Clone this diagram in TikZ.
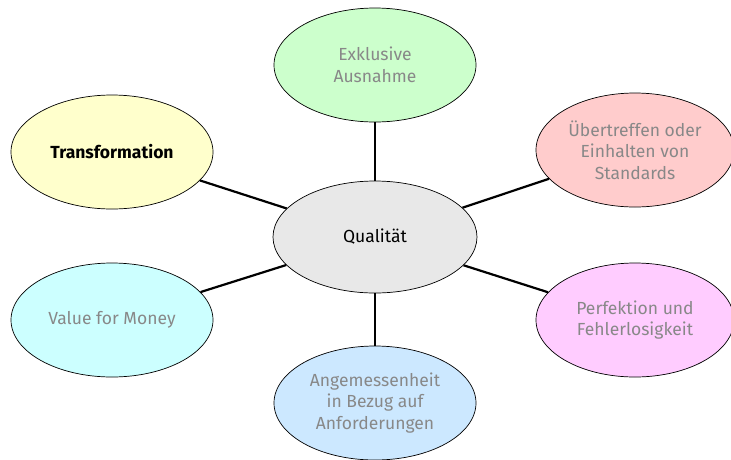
\documentclass[tikz,border=0pt]{standalone}
\usepackage{fontspec}
\setmainfont{Fira Sans}
\usetikzlibrary{shapes.geometric}
\definecolor{cgreen}{HTML}{CCFFCC}
\definecolor{cyellow}{HTML}{FFFFCC}
\definecolor{cpink}{HTML}{FFCCCC}
\definecolor{cgray}{HTML}{E8E8E8}
\definecolor{cblue}{HTML}{CCE8FF}
\definecolor{cmagenta}{HTML}{FFCCFF}
\definecolor{ccyan}{HTML}{CCFFFF}
\definecolor{txtgray}{HTML}{888888}
\tikzset{
  bubble/.style={ellipse, draw=black, line width=0.7pt, minimum width=202pt, minimum height=114pt,
    inner sep=0pt, align=center, font=\fontsize{17.5}{21.5}\selectfont, text=txtgray},
  link/.style={line width=2.2pt, black}
}
\begin{document}
\begin{tikzpicture}[x=1pt,y=-1pt]
\useasboundingbox[fill=white] (0,0) rectangle (731,459);
\node[bubble, fill=cgray, text=black, minimum width=204pt, minimum height=112pt] (q) at (375,237) {Qualität};
\node[bubble, fill=cgreen] (ex) at (375,65) {Exklusive\\Ausnahme};
\node[bubble, fill=cyellow, text=black, font=\fontsize{17.5}{21.5}\selectfont\bfseries] (tr) at (112,152) {Transformation};
\node[bubble, fill=cpink, minimum width=198pt] (ue) at (635,150) {Übertreffen oder\\Einhalten von\\Standards};
\node[bubble, fill=ccyan] (vm) at (112,320) {Value for Money};
\node[bubble, fill=cmagenta, minimum width=198pt] (pf) at (635,320) {Perfektion und\\Fehlerlosigkeit};
\node[bubble, fill=cblue] (an) at (375,403) {Angemessenheit\\in Bezug auf\\Anforderungen};
\draw[link] (q) -- (ex);
\draw[link] (q) -- (an);
\draw[link] (q) -- (tr);
\draw[link] (q) -- (vm);
\draw[link] (q) -- (ue);
\draw[link] (q) -- (pf);
\end{tikzpicture}
\end{document}
